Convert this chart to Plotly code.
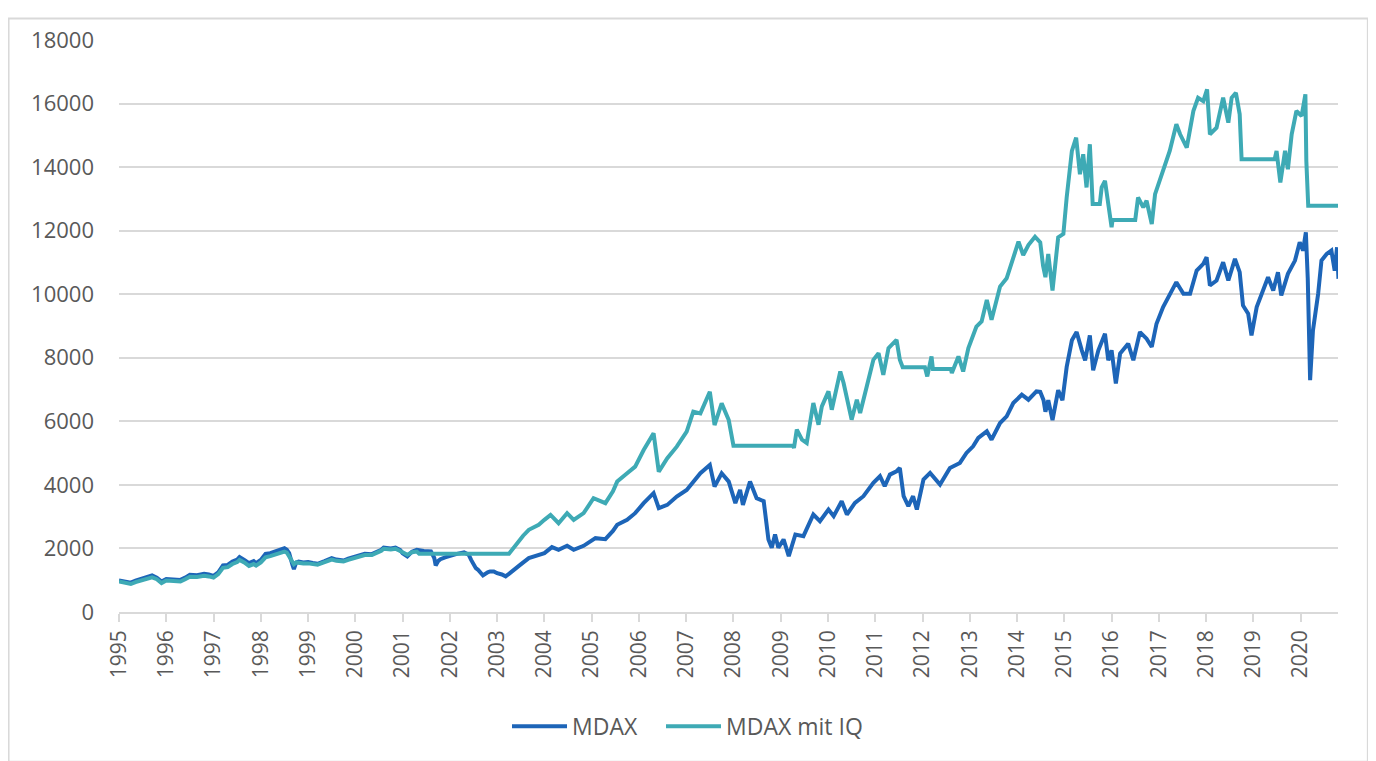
import plotly.graph_objects as go

# ---- data (decimal years, index points) ----
mdax_t = [1995.00, 1995.08, 1995.17, 1995.25, 1995.35, 1995.5, 1995.6, 1995.7, 1995.8, 1995.9,
          1996.0, 1996.15, 1996.3, 1996.4, 1996.5, 1996.65, 1996.8, 1996.9,
          1997.0, 1997.1, 1997.2, 1997.3, 1997.4, 1997.5, 1997.55, 1997.65, 1997.75, 1997.85, 1997.9,
          1998.0, 1998.1, 1998.2, 1998.3, 1998.4, 1998.5, 1998.55, 1998.6, 1998.67, 1998.7, 1998.75, 1998.8, 1998.9,
          1999.0, 1999.1, 1999.2, 1999.35, 1999.5, 1999.6, 1999.75, 1999.85,
          2000.0, 2000.1, 2000.2, 2000.35, 2000.45, 2000.55, 2000.6, 2000.75, 2000.85, 2000.95,
          2001.0, 2001.1, 2001.2, 2001.3, 2001.45, 2001.6, 2001.67, 2001.7, 2001.75, 2001.8, 2001.9,
          2002.0, 2002.15, 2002.3, 2002.4, 2002.45, 2002.55, 2002.6, 2002.7, 2002.8, 2002.85, 2002.93,
          2003.0, 2003.1, 2003.18, 2003.25, 2003.35, 2003.5, 2003.67, 2003.85,
          2004.0, 2004.16, 2004.3, 2004.48, 2004.62, 2004.83,
          2005.0, 2005.08, 2005.29, 2005.45, 2005.54, 2005.75, 2005.92,
          2006.1, 2006.31, 2006.42, 2006.6, 2006.8,
          2007.01, 2007.15, 2007.3, 2007.5, 2007.6, 2007.75, 2007.9,
          2008.04, 2008.14, 2008.2, 2008.35, 2008.49, 2008.57, 2008.64, 2008.74, 2008.81, 2008.88, 2008.95,
          2009.06, 2009.17, 2009.31, 2009.48, 2009.69, 2009.83,
          2010.01, 2010.12, 2010.29, 2010.4, 2010.57, 2010.75, 2010.96,
          2011.1, 2011.2, 2011.31, 2011.45, 2011.52, 2011.6, 2011.7, 2011.8, 2011.88,
          2012.02, 2012.16, 2012.37, 2012.58, 2012.79, 2012.93,
          2013.07, 2013.18, 2013.36, 2013.46, 2013.64, 2013.78, 2013.92,
          2014.1, 2014.24, 2014.41, 2014.49, 2014.56, 2014.6, 2014.66, 2014.75, 2014.87, 2014.96,
          2015.05, 2015.16, 2015.26, 2015.37, 2015.44, 2015.54, 2015.61, 2015.72, 2015.86, 2015.93,
          2016.0, 2016.09, 2016.18, 2016.35, 2016.46, 2016.6, 2016.74, 2016.85, 2016.95,
          2017.09, 2017.23, 2017.37, 2017.52, 2017.66, 2017.8, 2017.94,
          2018.01, 2018.08, 2018.22, 2018.36, 2018.47, 2018.61, 2018.71, 2018.78, 2018.89, 2018.96,
          2019.07, 2019.17, 2019.31, 2019.42, 2019.52, 2019.59, 2019.73, 2019.88, 2019.98,
          2020.05, 2020.11, 2020.15, 2020.18, 2020.2, 2020.26, 2020.37, 2020.44, 2020.55, 2020.65,
          2020.72, 2020.77, 2020.8]
mdax_v = [990, 960, 940, 925, 990, 1063, 1100, 1150, 1080, 960,
          1040, 1030, 1010, 1080, 1170, 1160, 1200, 1180,
          1137, 1250, 1465, 1480, 1590, 1650, 1727, 1640, 1537, 1600, 1537,
          1640, 1830, 1850, 1905, 1940, 2010, 1960, 1850, 1480, 1350, 1560, 1590, 1560,
          1570, 1540, 1516, 1600, 1695, 1650, 1620, 1680,
          1750, 1780, 1830, 1820, 1875, 1960, 2030, 2000, 2030, 1950,
          1850, 1750, 1900, 1960, 1920, 1905, 1700, 1465, 1600, 1660, 1720,
          1770, 1830, 1875, 1800, 1640, 1380, 1320, 1150, 1250, 1275, 1277,
          1220, 1180, 1120, 1200, 1330, 1500, 1696, 1780,
          1853, 2042, 1958, 2083, 1958, 2083,
          2250, 2324, 2293, 2550, 2743, 2900, 3110,
          3424, 3738, 3267, 3371, 3633,
          3842, 4104, 4366, 4628, 3947, 4366, 4104,
          3424, 3842, 3371, 4104, 3581, 3539, 3487, 2283, 2021, 2440, 2021,
          2283, 1759, 2440, 2387, 3068, 2859,
          3225, 3016, 3487, 3068, 3434, 3644, 4063,
          4272, 3958, 4324, 4429, 4534, 3644, 3330, 3644, 3225,
          4167, 4377, 4010, 4534, 4691, 5005,
          5214, 5476, 5686, 5424, 5947, 6157, 6576,
          6837, 6680, 6942, 6928, 6667, 6300, 6667, 6039, 6980, 6667,
          7712, 8549, 8810, 8235, 7922, 8706, 7608, 8235, 8758, 7922,
          8235, 7190, 8131, 8445, 7922, 8810, 8601, 8340, 9072,
          9595, 10013, 10379, 10013, 10013, 10745, 10955,
          11164, 10275, 10432, 11007, 10432, 11111, 10693, 9647, 9386, 8706,
          9595, 10013, 10536, 10118, 10693, 9961, 10641, 11059, 11634,
          11373, 11948, 10500, 8235, 7294, 8863, 10013, 11059, 11268, 11373,
          10745, 11477, 10484]

iq_t = [1995.00, 1995.08, 1995.17, 1995.25, 1995.35, 1995.5, 1995.6, 1995.7, 1995.8, 1995.9,
        1996.0, 1996.15, 1996.3, 1996.4, 1996.5, 1996.65, 1996.8, 1996.9,
        1997.0, 1997.1, 1997.2, 1997.3, 1997.4, 1997.5, 1997.55, 1997.65, 1997.75, 1997.85, 1997.9,
        1998.0, 1998.1, 1998.2, 1998.3, 1998.4, 1998.5, 1998.55, 1998.6, 1998.67, 1998.7, 1998.75, 1998.8, 1998.9,
        1999.0, 1999.1, 1999.2, 1999.35, 1999.5, 1999.6, 1999.75, 1999.85,
        2000.0, 2000.1, 2000.2, 2000.35, 2000.45, 2000.55, 2000.6, 2000.75, 2000.85, 2000.95,
        2001.0, 2001.1, 2001.2, 2001.3, 2001.35,
        2003.25, 2003.42, 2003.55, 2003.67, 2003.88,
        2004.0, 2004.13, 2004.3, 2004.48, 2004.62, 2004.83,
        2005.04, 2005.29, 2005.45, 2005.54, 2005.75, 2005.92,
        2006.1, 2006.31, 2006.42, 2006.6, 2006.8,
        2007.01, 2007.15, 2007.3, 2007.5, 2007.6, 2007.75, 2007.9, 2008.0,
        2009.26, 2009.28, 2009.34, 2009.45, 2009.55, 2009.69, 2009.8, 2009.87,
        2010.01, 2010.08, 2010.26, 2010.33, 2010.43, 2010.5, 2010.61, 2010.68, 2010.82, 2010.96,
        2011.07, 2011.17, 2011.28, 2011.45, 2011.52, 2011.58,
        2012.05, 2012.1, 2012.19, 2012.22, 2012.6, 2012.62, 2012.76, 2012.86, 2012.97,
        2013.14, 2013.25, 2013.36, 2013.46, 2013.64, 2013.78, 2013.92,
        2014.03, 2014.13, 2014.24, 2014.38, 2014.49, 2014.55, 2014.6, 2014.66, 2014.75, 2014.87, 2014.98,
        2015.05, 2015.16, 2015.25, 2015.33, 2015.4, 2015.47, 2015.54, 2015.6, 2015.75, 2015.79, 2015.86, 2015.93,
        2016.0, 2016.02, 2016.5, 2016.56, 2016.67, 2016.74, 2016.85, 2016.92, 2016.99,
        2017.13, 2017.23, 2017.37, 2017.45, 2017.59, 2017.73, 2017.83, 2017.94,
        2018.02, 2018.08, 2018.22, 2018.36, 2018.47, 2018.54, 2018.63, 2018.71, 2018.75,
        2019.45, 2019.49, 2019.57, 2019.67, 2019.73, 2019.81, 2019.91,
        2020.02, 2020.1, 2020.12, 2020.16, 2020.8]
iq_v = [960, 930, 900, 880, 940, 1010, 1050, 1090, 1030, 910,
        990, 980, 960, 1030, 1110, 1100, 1140, 1120,
        1080, 1190, 1390, 1410, 1510, 1570, 1640, 1560, 1450, 1510, 1460,
        1560, 1720, 1760, 1810, 1840, 1900, 1870, 1760, 1560, 1500, 1560, 1540, 1530,
        1530, 1500, 1490, 1570, 1650, 1610, 1590, 1640,
        1710, 1740, 1790, 1790, 1850, 1930, 1990, 1970, 1990, 1930,
        1880, 1800, 1880, 1900, 1835,
        1835, 2167, 2400, 2586, 2743,
        2900, 3057, 2795, 3110, 2900, 3110,
        3581, 3424, 3800, 4104, 4366, 4575,
        5099, 5622, 4418, 4837, 5203,
        5675, 6303, 6250, 6931, 5884, 6565, 6041, 5235,
        5235, 5162, 5738, 5424, 5319, 6576, 5895, 6471,
        6942, 6366, 7570, 7204, 6576, 6052, 6680, 6261, 7099, 7937,
        8146, 7465, 8303, 8565, 7937, 7700,
        7700, 7413, 8041, 7643, 7643, 7518, 8041, 7570, 8303,
        8984, 9141, 9821, 9193, 10240, 10502, 11182,
        11653, 11234, 11548, 11810, 11634, 10900, 10536, 11268, 10118, 11791, 11896,
        13046, 14510, 14929, 13778, 14406, 13360, 14720, 12837, 12837, 13360, 13569, 12732,
        12105, 12335, 12335, 13046, 12732, 12941, 12209, 13151, 13465,
        14092, 14510, 15347, 15033, 14615, 15765, 16183, 16078,
        16445, 15033, 15242, 16183, 15399, 16183, 16340, 15661, 14249,
        14249, 14510, 13517, 14510, 13935, 15033, 15765,
        15608, 16288, 14196, 12785, 12785]

years = list(range(1995, 2021))
y_ticks = list(range(0, 18001, 2000))

BLUE = "#1D65B8"
TEAL = "#3EAAB5"
GRID = "#D9D9D9"
TXT = "#595959"
FONT = "Open Sans"

fig = go.Figure()
fig.add_trace(go.Scatter(x=mdax_t, y=mdax_v, mode="lines", name="MDAX",
                         legendwidth=84,
                         line=dict(color=BLUE, width=4)))
fig.add_trace(go.Scatter(x=iq_t, y=iq_v, mode="lines", name="MDAX mit IQ",
                         legendwidth=160,
                         line=dict(color=TEAL, width=4)))

fig.update_layout(
    width=1368, height=753,
    margin=dict(l=111, r=38, t=32, b=149),
    paper_bgcolor="white", plot_bgcolor="white",
    font=dict(family=FONT, size=22, color=TXT),
    showlegend=True,
    legend=dict(orientation="h", x=0.3183, xanchor="left", y=-0.2, yanchor="middle",
                font=dict(family=FONT, size=23, color=TXT), itemwidth=55,
                traceorder="normal"),
    xaxis=dict(range=[1995, 2020.79], tickmode="array", tickvals=years,
               ticktext=[str(y) for y in years], tickangle=-90,
               showgrid=False, showline=True, linecolor=GRID, linewidth=1.5,
               ticks="outside", ticklen=8, tickcolor=GRID, tickwidth=1.5,
               tickfont=dict(family=FONT, size=21, color=TXT), zeroline=False),
    yaxis=dict(range=[0, 18000], tickmode="array", tickvals=y_ticks,
               ticktext=[str(v) for v in y_ticks],
               showgrid=True, gridcolor=GRID, gridwidth=1.5, zeroline=False,
               showline=False, ticks="", ticklabelstandoff=24,
               tickfont=dict(family=FONT, size=22, color=TXT)),
    shapes=[dict(type="rect", xref="paper", yref="paper",
                 x0=-0.0906, x1=1.0245, y0=-0.262, y1=1.0376,
                 line=dict(color=GRID, width=2), fillcolor="rgba(0,0,0,0)", layer="below")],
)

fig.write_html("out.html")
